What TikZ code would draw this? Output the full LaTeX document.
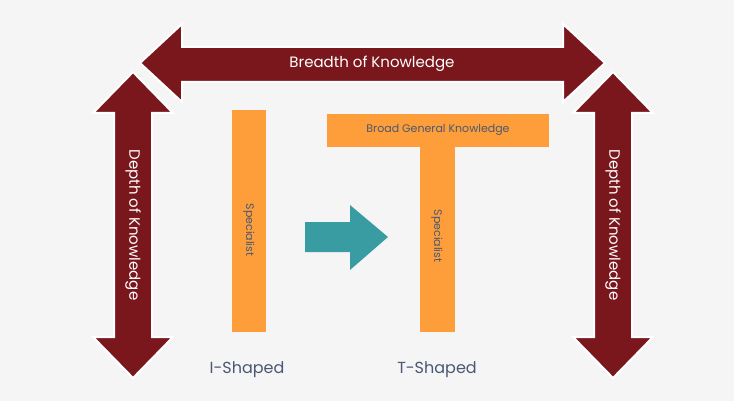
\documentclass[tikz,border=0pt]{standalone}
\usepackage{fontspec}
\setmainfont{Poppins}
\begin{document}
\begin{tikzpicture}[x=1pt,y=-1pt,
  darrow/.style={fill=arrowred,draw=white,line width=2pt},
  bar/.style={fill=barorange,draw=none},
  wtext/.style={text=white,font=\fontsize{15}{15}\selectfont},
  gtext/.style={text=labgray,font=\fontsize{16}{16}\selectfont},
  btext/.style={text=labgray,font=\fontsize{11}{11}\selectfont}]
\definecolor{arrowred}{HTML}{7A171D}
\definecolor{barorange}{HTML}{FD9E3B}
\definecolor{teal}{HTML}{3A9CA3}
\definecolor{labgray}{HTML}{4A5872}
\fill[fill={rgb,255:red,245;green,245;blue,245}] (0,0) rectangle (734,401);
\useasboundingbox (0,0) rectangle (734,401);
% top arrow
\draw[darrow] (140,63) -- (182,24) -- (182,47) -- (563,47) -- (563,24) -- (605,63) -- (563,102) -- (563,82) -- (182,82) -- (182,102) -- cycle;
\node[wtext] (breadth) at (372,64) {Breadth of Knowledge};
% left vertical
\draw[darrow] (133,72) -- (173,113) -- (152,113) -- (152,337) -- (173,337) -- (133,378) -- (93,337) -- (114,337) -- (114,113) -- (93,113) -- cycle;
\node[wtext,rotate=-90] (depthL) at (133,225) {Depth of Knowledge};
% right vertical
\draw[darrow] (613,72) -- (653,113) -- (632,113) -- (632,337) -- (653,337) -- (613,378) -- (573,337) -- (594,337) -- (594,113) -- (573,113) -- cycle;
\node[wtext,rotate=-90] (depthR) at (613,225) {Depth of Knowledge};
% I
\fill[bar] (232,110) rectangle (266,332);
\node[btext,rotate=-90] (spec1) at (249,230) {Specialist};
% T
\fill[bar] (327,114) rectangle (549,147);
\fill[bar] (420,146) rectangle (455,332);
\node[btext] (broad) at (438,130) {Broad General Knowledge};
\node[btext,rotate=-90] (spec2) at (437,236) {Specialist};
% teal arrow
\fill[teal] (305,222) -- (350,222) -- (350,205) -- (388,237) -- (350,270) -- (350,252) -- (305,252) -- cycle;
\node[gtext] (ishaped) at (247,370) {I-Shaped};
\node[gtext] (tshaped) at (437,370) {T-Shaped};
\end{tikzpicture}
\end{document}
